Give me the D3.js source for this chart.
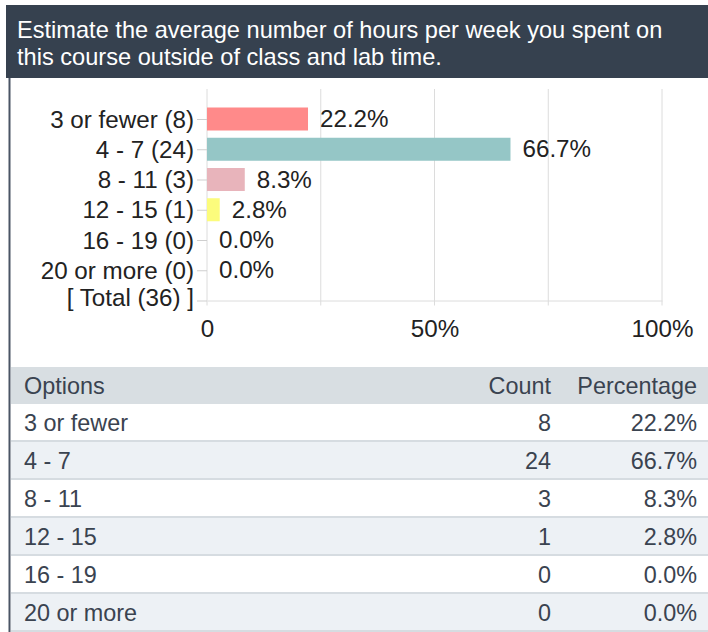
<!DOCTYPE html>
<html>
<head>
<meta charset="utf-8">
<script src="https://cdn.jsdelivr.net/npm/d3@7"></script>
<style>
  html, body { margin: 0; padding: 0; background: #fff; }
  svg { display: block; }
</style>
</head>
<body>
<div id="app"></div>
<script>
(function (d3) {

  'use strict'

  // survey data
  const title = ['Estimate the average number of hours per week you spent on',
                 'this course outside of class and lab time.']
  const options = ['3 or fewer', '4 - 7', '8 - 11', '12 - 15', '16 - 19', '20 or more']
  const counts = [8, 24, 3, 1, 0, 0]
  const percents = [22.2, 66.7, 8.3, 2.8, 0.0, 0.0]
  const total = 36
  const xTicks = [0, 25, 50, 75, 100]
  const xTickLabels = ['0', '', '50%', '', '100%']
  const tableHeads = ['Options', 'Count', 'Percentage']

  const barColors = ['#ff8a8a', '#95c6c6', '#e8b4bb', '#fcfc7c', '#cccccc', '#cccccc']

  const w = 708
  const h = 632
  const font = '"Liberation Sans", Arial, sans-serif'

  const svg = d3.select('#app')
    .append('svg')
    .attr('width', w)
    .attr('height', h)
    .style('font-family', font)

  // title band
  svg.append('rect')
    .attr('x', 6).attr('y', 5)
    .attr('width', w - 6).attr('height', 73)
    .attr('fill', '#36414f')
  svg.selectAll('text.title')
    .data(title)
    .enter()
    .append('text')
    .attr('class', 'title')
    .attr('x', 17)
    .attr('y', (d, i) => 38 + i * 27)
    .style('font-size', '23.6px')
    .style('fill', '#ffffff')
    .text(d => d)

  // left border
  svg.append('rect')
    .attr('x', 8.5).attr('y', 78)
    .attr('width', 2).attr('height', h - 78)
    .attr('fill', '#4a5565')

  // chart
  const rows = options.map((o, i) => ({ label: o + ' (' + counts[i] + ')', pct: percents[i], color: barColors[i] }))
  const cats = rows.map(r => r.label).concat(['[ Total (' + total + ') ]'])

  const xScale = d3.scaleLinear().domain([0, 100]).range([207, 662])
  const yScale = d3.scalePoint().domain(cats).range([119, 300.5])
  const plotTop = 89
  const plotBottom = 300.5
  const chartFont = '24.2px'

  // gridlines
  svg.append('g')
    .selectAll('line')
    .data(xTicks)
    .enter()
    .append('line')
    .attr('x1', d => xScale(d)).attr('x2', d => xScale(d))
    .attr('y1', plotTop).attr('y2', plotBottom + 5)
    .attr('stroke', '#dcdcdc')
    .attr('stroke-width', 1)

  // bottom axis
  const xAxis = d3.axisBottom(xScale)
    .tickValues(xTicks)
    .tickSize(0)
    .tickPadding(19)
    .tickFormat((d, i) => xTickLabels[i])
  const gx = svg.append('g')
    .attr('transform', 'translate(0,' + plotBottom + ')')
    .call(xAxis)
  gx.select('.domain').attr('stroke', '#dcdcdc')
  gx.selectAll('text')
    .style('font-family', font)
    .style('font-size', chartFont)
    .style('fill', '#222')
    .attr('dy', '0.71em')

  // left axis
  const yAxis = d3.axisLeft(yScale).tickSize(10).tickPadding(3)
  const gy = svg.append('g')
    .attr('transform', 'translate(207,0)')
    .call(yAxis)
  gy.select('.domain').remove()
  gy.selectAll('line').attr('stroke', '#cfcfcf')
  gy.selectAll('text')
    .style('font-family', font)
    .style('font-size', chartFont)
    .style('fill', '#222')
    .attr('dy', (d, i) => i === cats.length - 1 ? '0.2em' : '0.34em')

  // bars
  const barH = 23
  svg.append('g')
    .selectAll('rect')
    .data(rows.filter(r => r.pct > 0))
    .enter()
    .append('rect')
    .attr('x', xScale(0))
    .attr('y', d => yScale(d.label) - barH / 2)
    .attr('width', d => xScale(d.pct) - xScale(0))
    .attr('height', barH)
    .attr('fill', d => d.color)

  // value labels
  svg.append('g')
    .selectAll('text')
    .data(rows)
    .enter()
    .append('text')
    .attr('x', d => xScale(d.pct) + 12)
    .attr('y', d => yScale(d.label))
    .attr('dy', '0.34em')
    .style('font-size', chartFont)
    .style('fill', '#222')
    .text(d => d.pct.toFixed(1) + '%')

  // table
  const tTop = 367
  const headH = 37
  const rowH = 38
  const tx = 11
  const colRight = [null, 551, 697]

  svg.append('rect')
    .attr('x', tx).attr('y', tTop)
    .attr('width', w - tx).attr('height', headH)
    .attr('fill', '#d8dee2')

  const tableFont = '23.4px'
  svg.selectAll('text.head')
    .data(tableHeads)
    .enter()
    .append('text')
    .attr('class', 'head')
    .attr('x', (d, i) => i === 0 ? 24 : colRight[i])
    .attr('y', tTop + headH / 2)
    .attr('dy', '0.35em')
    .attr('text-anchor', (d, i) => i === 0 ? 'start' : 'end')
    .style('font-size', tableFont)
    .style('fill', '#3a4350')
    .text(d => d)

  const tRows = svg.append('g')
    .selectAll('g')
    .data(options.map((o, i) => [o, String(counts[i]), percents[i].toFixed(1) + '%']))
    .enter()
    .append('g')
    .attr('transform', (d, i) => 'translate(0,' + (tTop + headH + i * rowH) + ')')

  tRows.append('rect')
    .attr('x', tx).attr('y', 0)
    .attr('width', w - tx).attr('height', rowH)
    .attr('fill', (d, i) => i % 2 === 0 ? '#ffffff' : '#edf1f5')
  tRows.append('rect')
    .attr('x', tx).attr('y', rowH - 2)
    .attr('width', w - tx).attr('height', 2)
    .attr('fill', '#d6dce1')

  tRows.selectAll('text')
    .data(d => d)
    .enter()
    .append('text')
    .attr('x', (d, i) => i === 0 ? 24 : colRight[i])
    .attr('y', rowH / 2)
    .attr('dy', '0.35em')
    .attr('text-anchor', (d, i) => i === 0 ? 'start' : 'end')
    .style('font-size', tableFont)
    .style('fill', '#3a4350')
    .text(d => d)

}(d3))
</script>
</body>
</html>
